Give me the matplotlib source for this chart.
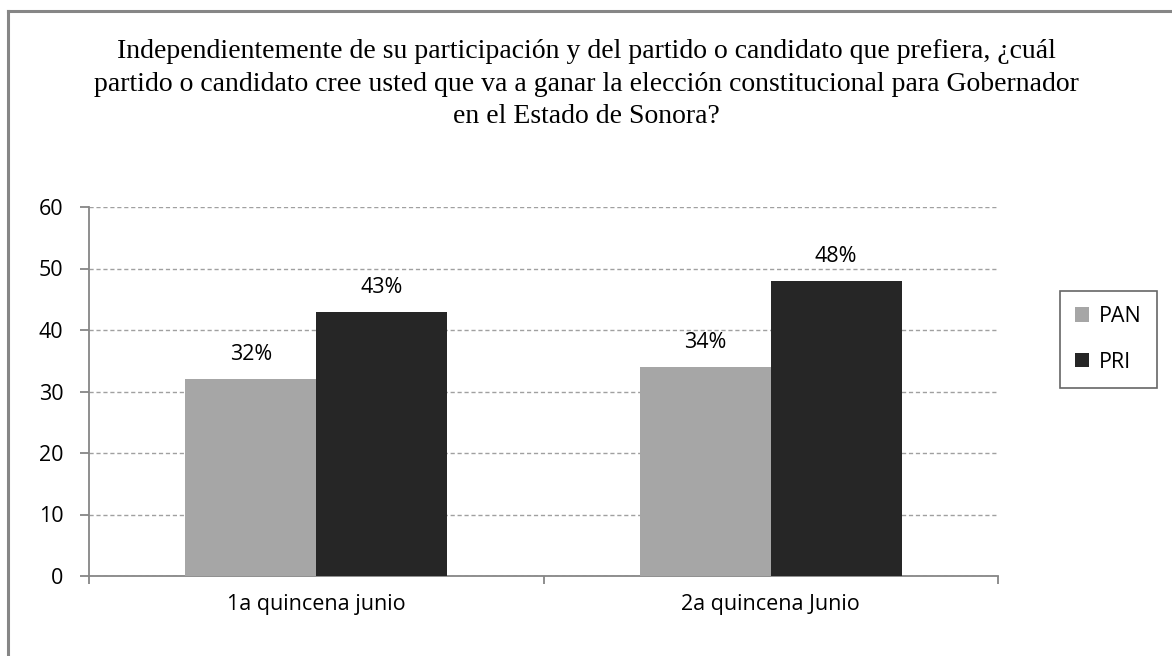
import matplotlib
matplotlib.use("Agg")
import matplotlib.pyplot as plt
from matplotlib.lines import Line2D
import numpy as np

categories = ["1a quincena junio", "2a quincena Junio"]
series_names = ["PAN", "PRI"]
pan_values = [32, 34]
pri_values = [43, 48]
y_ticks = [0, 10, 20, 30, 40, 50, 60]
title = ("Independientemente de su participación y del partido o candidato que prefiera, ¿cuál\n"
         "partido o candidato cree usted que va a ganar la elección constitucional para Gobernador\n"
         "en el Estado de Sonora?")

colors = ["#A6A6A6", "#262626"]
sans = ["Open Sans", "DejaVu Sans"]
serif = ["Liberation Serif", "DejaVu Serif"]
FS = 15.5

fig = plt.figure(figsize=(11.72, 6.56), dpi=100)
ax = fig.add_axes([89/1172, 80/656, (998-89)/1172, (576-207)/656])

x = np.arange(len(categories))
w = 0.288
for i, (vals, name) in enumerate(zip([pan_values, pri_values], series_names)):
    pos = x + (i - 0.5) * w
    bars = ax.bar(pos, vals, width=w, color=colors[i], label=name, zorder=3)
    for b, v in zip(bars, vals):
        ax.annotate(f"{v}%", (b.get_x() + b.get_width()/2, v), xytext=(0, 13.5),
                    textcoords="offset points", ha="center", va="baseline",
                    fontsize=FS, family=sans, color="#000000")

ax.set_ylim(0, 60)
ax.set_xlim(-0.5, len(categories) - 0.5)
ax.set_yticks(y_ticks)
ax.set_yticklabels([str(t) for t in y_ticks], fontsize=FS, family=sans)
ax.set_xticks(x)
ax.set_xticklabels(categories, fontsize=FS, family=sans)
ax.set_xticks(np.arange(-0.5, len(categories)), minor=True)
ax.tick_params(axis="x", which="major", length=0, pad=13)
ax.tick_params(axis="x", which="minor", length=5.5, color="#868686", width=1.3, direction="out")
ax.tick_params(axis="y", length=6.5, color="#868686", width=1.3, direction="out", pad=12)
ax.grid(axis="y", color="#A0A0A0", linestyle=(0, (3, 2)), linewidth=1, zorder=0)
for s in ["top", "right"]:
    ax.spines[s].set_visible(False)
for s in ["left", "bottom"]:
    ax.spines[s].set_color("#868686")
    ax.spines[s].set_linewidth(1.3)

leg = fig.legend(loc="upper left", bbox_to_anchor=(1060/1172, 1 - 291/656),
                 prop={"family": sans, "size": FS}, frameon=True, fancybox=False,
                 handlelength=0.65, handleheight=0.65, handletextpad=0.45,
                 labelspacing=1.15, borderpad=0.7, borderaxespad=0)
leg.get_frame().set_edgecolor("#404040")
leg.get_frame().set_linewidth(1.2)

fig.text(0.5, 1 - 39/656, title, ha="center", va="top", fontsize=20,
         family=serif, linespacing=1.4)

fig.add_artist(Line2D([7.5/1172, 7.5/1172], [0, 1 - 10.5/656], color="#868686", lw=2.2, transform=fig.transFigure))
fig.add_artist(Line2D([7.5/1172, 1], [1 - 10.5/656, 1 - 10.5/656], color="#868686", lw=2.2, transform=fig.transFigure))

fig.savefig("out.png", dpi=100)
